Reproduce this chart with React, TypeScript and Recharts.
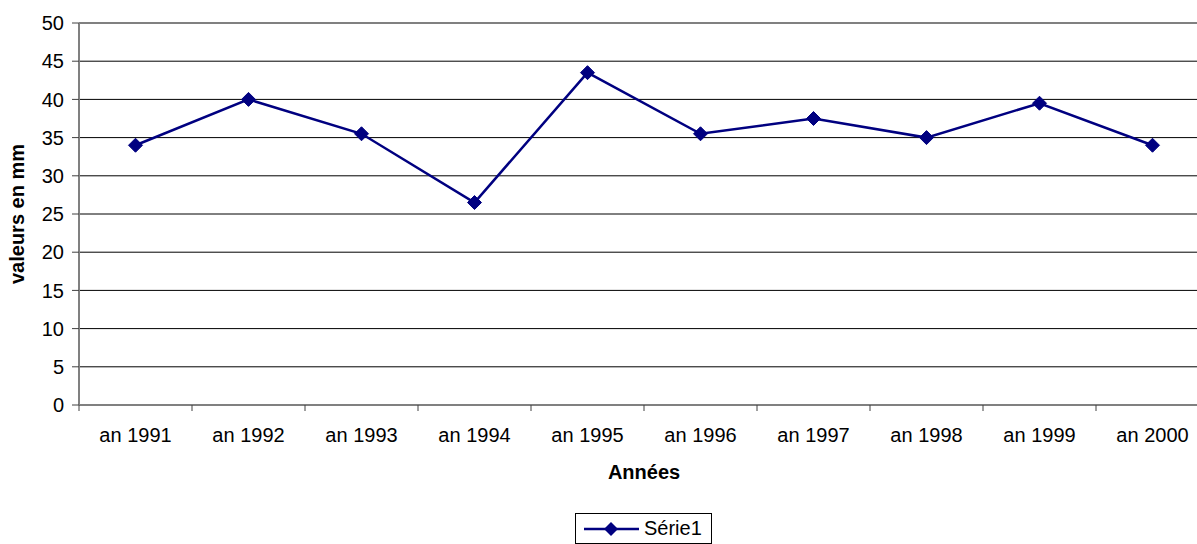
import React from "react";
import { LineChart, Line, XAxis, YAxis, CartesianGrid, ReferenceLine, Label } from "recharts";

const categories: string[] = ["an 1991", "an 1992", "an 1993", "an 1994", "an 1995", "an 1996", "an 1997", "an 1998", "an 1999", "an 2000"];
const serie1: number[] = [34, 40, 35.5, 26.5, 43.5, 35.5, 37.5, 35, 39.5, 34];
const yTicks: number[] = [0, 5, 10, 15, 20, 25, 30, 35, 40, 45, 50];
const seriesName = "Série1";
const xTitle = "Années";
const yTitle = "valeurs en mm";

const data = categories.map((c, i) => ({ name: c, serie1: serie1[i] }));

const FONT = "'Liberation Sans', Arial, sans-serif";
const NAVY = "#000080";

const XTick = (props: any) => {
  const { x, y, payload, index, visibleTicksCount } = props;
  const half = payload && typeof payload.offset === "number" ? payload.offset : 0;
  return (
    <g>
      <line x1={x - half} y1={y} x2={x - half} y2={y + 6} stroke="#404040" strokeWidth={1} />
      {index === visibleTicksCount - 1 && (
        <line x1={x + half} y1={y} x2={x + half} y2={y + 6} stroke="#404040" strokeWidth={1} />
      )}
      <text x={x} y={y + 37} textAnchor="middle" fontSize={20} fill="#000" fontFamily={FONT}>
        {payload.value}
      </text>
    </g>
  );
};

const Diamond = (props: any) => {
  const { cx, cy, index } = props;
  if (cx == null || cy == null) return <g key={index} />;
  const r = 7;
  return (
    <polygon
      key={index}
      points={`${cx},${cy - r} ${cx + r},${cy} ${cx},${cy + r} ${cx - r},${cy}`}
      fill={NAVY}
      stroke={NAVY}
      strokeWidth={1}
    />
  );
};

export default function App() {
  return (
    <div style={{ position: "absolute", left: 0, top: 0, width: 1197, height: 544, overflow: "hidden", background: "#fff" }}>
      <LineChart width={1215} height={544} data={data} margin={{ top: 23, right: 6, left: 0, bottom: 0 }}>
        <CartesianGrid horizontal vertical={false} stroke="#000" strokeWidth={1} />
        <XAxis
          dataKey="name"
          scale="band"
          height={139}
          tickSize={0}
          tickMargin={0}
          tickLine={false}
          interval={0}
          axisLine={{ stroke: "#808080", strokeWidth: 2 }}
          tick={<XTick />}
        >
          <Label
            content={(p: any) => {
              const vb = p.viewBox;
              return (
                <text x={vb.x + vb.width / 2} y={vb.y + 74} textAnchor="middle" fontSize={20} fontWeight="bold" fill="#000" fontFamily={FONT}>
                  {xTitle}
                </text>
              );
            }}
          />
        </XAxis>
        <YAxis
          width={79}
          domain={[0, 50]}
          ticks={yTicks}
          interval={0}
          tickSize={7}
          tickMargin={8}
          tickLine={{ stroke: "#404040" }}
          axisLine={{ stroke: "#808080", strokeWidth: 2 }}
          tick={{ fontSize: 20, fill: "#000", fontFamily: FONT }}
        >
          <Label
            content={(p: any) => {
              const vb = p.viewBox;
              const cx = vb.x + 24;
              const cy = vb.y + vb.height / 2;
              return (
                <text x={cx} y={cy} transform={`rotate(-90, ${cx}, ${cy})`} textAnchor="middle" fontSize={20} fontWeight="bold" fill="#000" fontFamily={FONT}>
                  {yTitle}
                </text>
              );
            }}
          />
        </YAxis>
        <ReferenceLine y={50} stroke="#808080" strokeWidth={2} />
        <Line
          type="linear"
          dataKey="serie1"
          name={seriesName}
          stroke={NAVY}
          strokeWidth={2.5}
          dot={<Diamond />}
          activeDot={false}
          isAnimationActive={false}
        />
      </LineChart>
      <div
        style={{
          position: "absolute",
          left: 575,
          top: 513,
          width: 137,
          height: 31,
          boxSizing: "border-box",
          border: "1px solid #000",
          display: "flex",
          alignItems: "center",
          fontFamily: FONT,
          fontSize: 20,
          color: "#000",
          background: "#fff",
        }}
      >
        <svg width={66} height={20} style={{ display: "block", marginLeft: 1 }}>
          <line x1={7} y1={10} x2={62} y2={10} stroke={NAVY} strokeWidth={2.5} />
          <polygon points="34,3 41,10 34,17 27,10" fill={NAVY} />
        </svg>
        <span style={{ marginLeft: 1 }}>{seriesName}</span>
      </div>
    </div>
  );
}
